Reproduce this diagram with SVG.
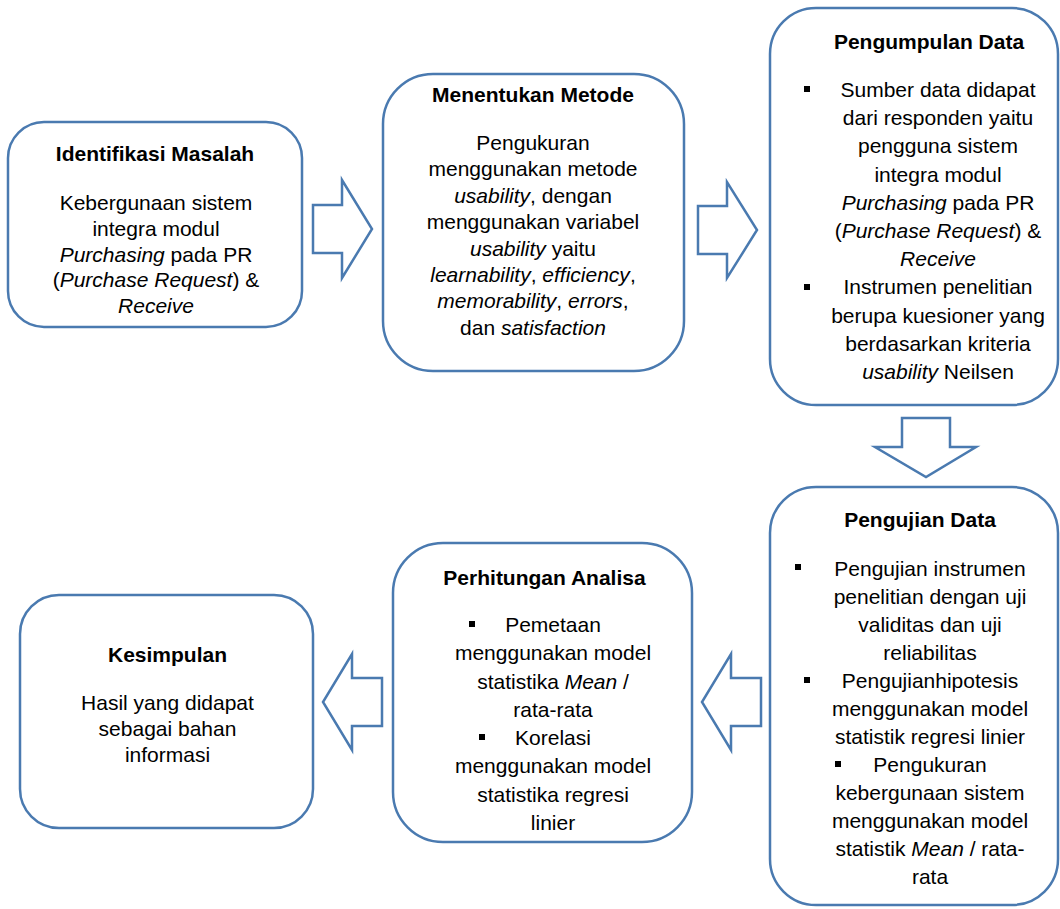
<svg xmlns="http://www.w3.org/2000/svg" width="1060" height="909" viewBox="0 0 1060 909">
<style>
.box{fill:#ffffff;stroke:#4a7ab0;stroke-width:2.5}
.arr{fill:#ffffff;stroke:#4a7ab0;stroke-width:2.5;stroke-linejoin:miter}
text{font-family:"Liberation Sans",Arial,sans-serif;font-size:21px;fill:#000000;text-anchor:middle}
.t{font-weight:bold}
.i{font-style:italic}
.b{fill:#000000}
</style>
<rect width="1060" height="909" fill="#ffffff"/>
<g id="connectors">
<polygon class="arr" points="313,205 342,205 342,180 372,229 342,278 342,253 313,253"/>
<polygon class="arr" points="698,206 727,206 727,182 757,230 727,278 727,254 698,254"/>
<polygon class="arr" points="902,418 950,418 950,447 976,447 926,477 875,447 902,447"/>
<polygon class="arr" points="761,678 731,678 731,654 702,702 731,750 731,726 761,726"/>
<polygon class="arr" points="382,678 352,678 352,654 323,702 352,750 352,726 382,726"/>
</g>
<g id="identifikasi">
<rect class="box" x="8" y="122" width="294" height="205" rx="36" ry="36"/>
<text class="t" x="155" y="161">Identifikasi Masalah</text>
<text x="156" y="210">Kebergunaan sistem</text>
<text x="156" y="236">integra modul</text>
<text x="156" y="262"><tspan class="i">Purchasing</tspan> pada PR</text>
<text x="156" y="287">(<tspan class="i">Purchase Request</tspan>) &amp;</text>
<text x="156" y="313" class="i">Receive</text>
</g>
<g id="metode">
<rect class="box" x="383" y="74" width="301" height="297" rx="50" ry="50"/>
<text class="t" x="533" y="102">Menentukan Metode</text>
<text x="533" y="150">Pengukuran</text>
<text x="533" y="176.4">menggunakan metode</text>
<text x="533" y="202.8"><tspan class="i">usability</tspan>, dengan</text>
<text x="533" y="229.2">menggunakan variabel</text>
<text x="533" y="255.6"><tspan class="i">usability</tspan> yaitu</text>
<text x="533" y="282"><tspan class="i">learnability</tspan>, <tspan class="i">efficiency</tspan>,</text>
<text x="533" y="308.4"><tspan class="i">memorability</tspan>, <tspan class="i">errors</tspan>,</text>
<text x="533" y="334.8">dan <tspan class="i">satisfaction</tspan></text>
</g>
<g id="pengumpulan">
<rect class="box" x="770" y="8" width="288" height="397" rx="46" ry="46"/>
<text class="t" x="929" y="49">Pengumpulan Data</text>
<rect class="b" x="804" y="86" width="6" height="6"/>
<text x="938" y="97">Sumber data didapat</text>
<text x="938" y="125.2">dari responden yaitu</text>
<text x="938" y="153.4">pengguna sistem</text>
<text x="938" y="181.6">integra modul</text>
<text x="938" y="209.8"><tspan class="i">Purchasing</tspan> pada PR</text>
<text x="938" y="238">(<tspan class="i">Purchase Request</tspan>) &amp;</text>
<text x="938" y="266.2" class="i">Receive</text>
<rect class="b" x="804" y="284" width="6" height="6"/>
<text x="938" y="294.4">Instrumen penelitian</text>
<text x="938" y="322.6">berupa kuesioner yang</text>
<text x="938" y="350.8">berdasarkan kriteria</text>
<text x="938" y="379"><tspan class="i">usability</tspan> Neilsen</text>
</g>
<g id="pengujian">
<rect class="box" x="770" y="487" width="288" height="418" rx="46" ry="46"/>
<text class="t" x="920" y="527">Pengujian Data</text>
<rect class="b" x="795" y="564" width="6" height="6"/>
<text x="930" y="575.5">Pengujian instrumen</text>
<text x="930" y="603.5">penelitian dengan uji</text>
<text x="930" y="631.5">validitas dan uji</text>
<text x="930" y="659.5">reliabilitas</text>
<rect class="b" x="804" y="677" width="6" height="6"/>
<text x="930" y="687.5">Pengujianhipotesis</text>
<text x="930" y="715.5">menggunakan model</text>
<text x="930" y="743.5">statistik regresi linier</text>
<rect class="b" x="835" y="761" width="6" height="6"/>
<text x="930" y="771.5">Pengukuran</text>
<text x="930" y="799.5">kebergunaan sistem</text>
<text x="930" y="827.5">menggunakan model</text>
<text x="930" y="855.5">statistik <tspan class="i">Mean</tspan> / rata-</text>
<text x="930" y="883.5">rata</text>
</g>
<g id="perhitungan">
<rect class="box" x="393" y="543" width="299" height="299" rx="50" ry="50"/>
<text class="t" x="544.5" y="585">Perhitungan Analisa</text>
<rect class="b" x="469" y="621" width="6" height="6"/>
<text x="553" y="632">Pemetaan</text>
<text x="553" y="660.25">menggunakan model</text>
<text x="553" y="688.5">statistika <tspan class="i">Mean</tspan> /</text>
<text x="553" y="716.75">rata-rata</text>
<rect class="b" x="479" y="734" width="6" height="6"/>
<text x="553" y="745">Korelasi</text>
<text x="553" y="773.25">menggunakan model</text>
<text x="553" y="801.5">statistika regresi</text>
<text x="553" y="829.75">linier</text>
</g>
<g id="kesimpulan">
<rect class="box" x="20" y="595" width="293" height="233" rx="39" ry="39"/>
<text class="t" x="167.5" y="662">Kesimpulan</text>
<text x="167.5" y="710">Hasil yang didapat</text>
<text x="167.5" y="736">sebagai bahan</text>
<text x="167.5" y="762">informasi</text>
</g>
</svg>
